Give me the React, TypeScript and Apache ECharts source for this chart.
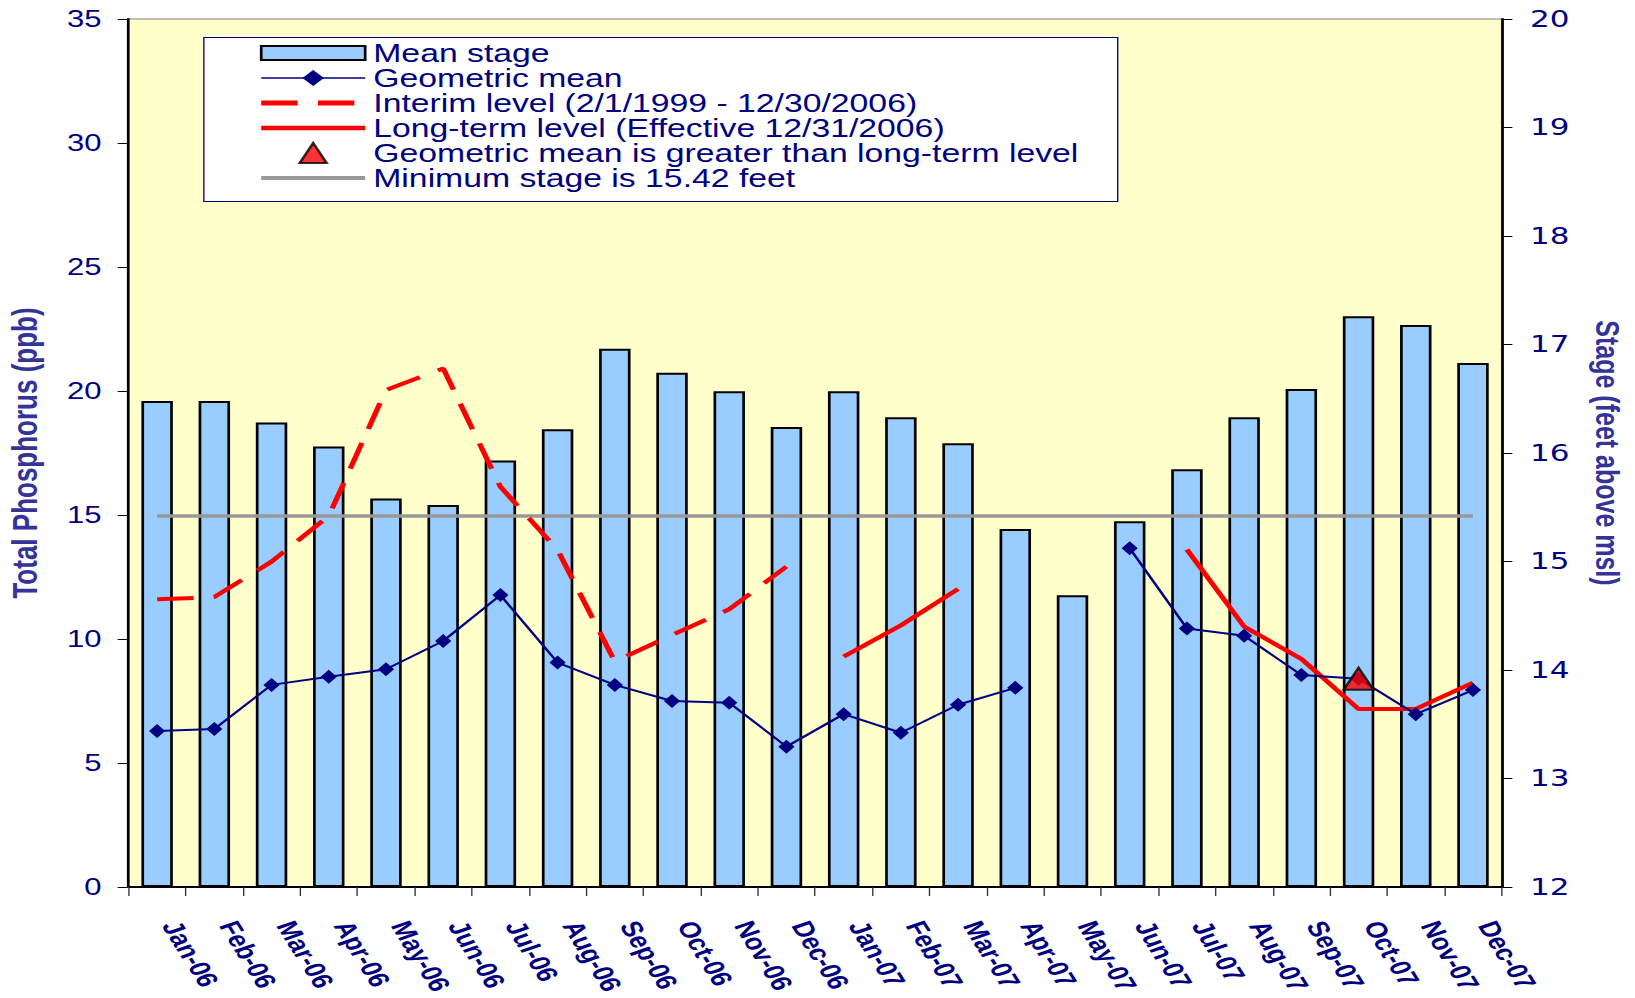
import React, { useEffect, useRef } from "react";
import * as echarts from "echarts";

// ---------- data ----------
const categories = [
  "Jan-06", "Feb-06", "Mar-06", "Apr-06", "May-06", "Jun-06",
  "Jul-06", "Aug-06", "Sep-06", "Oct-06", "Nov-06", "Dec-06",
  "Jan-07", "Feb-07", "Mar-07", "Apr-07", "May-07", "Jun-07",
  "Jul-07", "Aug-07", "Sep-07", "Oct-07", "Nov-07", "Dec-07",
];

// Mean stage (feet above msl) – right axis
const meanStage = [
  16.48, 16.48, 16.28, 16.06, 15.58, 15.52, 15.93, 16.22, 16.96, 16.74, 16.57, 16.24,
  16.57, 16.33, 16.09, 15.30, 14.69, 15.37, 15.85, 16.33, 16.59, 17.26, 17.18, 16.83,
];

// Geometric mean total phosphorus (ppb) – left axis
const geoMean: (number | null)[] = [
  6.29, 6.37, 8.15, 8.48, 8.78, 9.92, 11.77, 9.05, 8.15, 7.5, 7.43, 5.66,
  6.97, 6.22, 7.35, 8.03, null, 13.66, 10.42, 10.13, 8.55, 8.4, 6.97, 7.94,
];

// Interim level (ppb)
const interimLevel: (number | null)[] = [
  11.6, 11.69, 13.12, 14.96, 20.04, 20.91, 16.14, 13.59, 9.09, 10.16, 11.2, 12.92,
  null, null, null, null, null, null, null, null, null, null, null, null,
];

// Long-term level (ppb)
const longTermLevel: (number | null)[] = [
  null, null, null, null, null, null, null, null, null, null, null, null,
  9.29, 10.55, 12.02, null, null, null, 13.61, 10.5, 9.2, 7.18, 7.18, 8.24,
];

const minStage = 15.42;

const leftTicks = { min: 0, max: 35, interval: 5 };
const rightTicks = { min: 12, max: 20, interval: 1 };

const legendNames = [
  "Mean stage",
  "Geometric mean",
  "Interim level (2/1/1999 - 12/30/2006)",
  "Long-term level (Effective 12/31/2006)",
  "Geometric mean is greater than long-term level",
  "Minimum stage is 15.42 feet",
];

// ---------- derived ----------
const minStageLine = categories.map(() => minStage);
const exceedance = geoMean.map((v, i) => {
  const lt = longTermLevel[i];
  return v != null && lt != null && v > lt ? v : null;
});

const FONT = "'Liberation Sans', Arial, Helvetica, sans-serif";
const NAVY = "#000080";
const TITLE = "#333399";
const STRETCH = 1.35;
const W = 1635 / STRETCH;

// legend icon shapes (box 77 x 20)
const BAR_ICON = "path://M0,0 M77,20 M0,3 L77,3 L77,17 L0,17 Z";
const TRI_ICON = "path://M0,0 M77,20 M28.5,20 L38.5,0 L48.5,20 Z";

export default function App() {
  const ref = useRef<HTMLDivElement>(null);

  useEffect(() => {
    if (!ref.current) return;
    const chart = echarts.init(ref.current, null, { renderer: "svg" });
    chart.setOption({
      animation: false,
      backgroundColor: "#ffffff",
      textStyle: { fontFamily: FONT },
      grid: {
        left: 95.2,
        right: W - 1112.4,
        top: 19,
        bottom: 111,
        outerBoundsMode: "none",
        containLabel: false,
        show: true,
        backgroundColor: "#FFFFCC",
        borderColor: "#808080",
        borderWidth: 1,
      },
      legend: {
        orient: "vertical",
        left: 151,
        top: 37.5,
        padding: [3, 29, 11, 40],
        backgroundColor: "#ffffff",
        borderColor: NAVY,
        borderWidth: 1,
        borderRadius: 0,
        itemWidth: 77,
        itemHeight: 20,
        itemGap: 0,
        selectedMode: false,
        textStyle: {
          color: NAVY,
          fontSize: 25,
          lineHeight: 25,
          fontFamily: FONT,
          padding: [0, 0, 0, 1],
        },
        data: [
          {
            name: legendNames[0],
            icon: BAR_ICON,
            itemStyle: { color: "#99CCFF", borderColor: "#000000", borderWidth: 2 },
          },
          {
            name: legendNames[1],
            lineStyle: { color: NAVY, width: 1.5 },
          },
          {
            name: legendNames[2],
            itemStyle: { opacity: 0 },
            lineStyle: { color: "#FF0000", width: 5, type: [27, 15], cap: "butt" },
          },
          {
            name: legendNames[3],
            itemStyle: { opacity: 0 },
            lineStyle: { color: "#FF0000", width: 4.5 },
          },
          {
            name: legendNames[4],
            icon: TRI_ICON,
            itemStyle: { color: "#FF0000", borderColor: "#000000", borderWidth: 2 },
          },
          {
            name: legendNames[5],
            itemStyle: { opacity: 0 },
            lineStyle: { color: "#999999", width: 4 },
          },
        ],
      },
      xAxis: {
        type: "category",
        data: categories,
        boundaryGap: true,
        axisLine: { show: true, lineStyle: { color: "#000000", width: 2 } },
        axisTick: { show: true, length: 9, interval: 0, lineStyle: { color: "#333333", width: 1 } },
        axisLabel: {
          interval: 0,
          rotate: -65,
          margin: 40,
          color: NAVY,
          fontSize: 22,
          fontWeight: "bold",
          fontFamily: FONT,
          align: "left",
          verticalAlign: "bottom",
        },
        splitLine: { show: false },
      },
      yAxis: [
        {
          type: "value",
          position: "left",
          ...leftTicks,
          name: "Total Phosphorus (ppb)",
          nameLocation: "middle",
          nameGap: 64,
          nameTextStyle: { color: TITLE, fontSize: 26, fontWeight: "bold", fontFamily: FONT },
          axisLine: { show: true, lineStyle: { color: "#000000", width: 2 } },
          axisTick: { show: true, length: 8, lineStyle: { color: "#000000", width: 1 } },
          axisLabel: { color: NAVY, fontSize: 23, margin: 20, fontFamily: FONT },
          splitLine: { show: false },
        },
        {
          type: "value",
          position: "right",
          ...rightTicks,
          startValue: rightTicks.min,
          name: "Stage (feet above msl)",
          nameLocation: "middle",
          nameRotate: -90,
          nameGap: 66,
          nameTextStyle: { color: TITLE, fontSize: 25, fontWeight: "bold", fontFamily: FONT },
          axisLine: { show: true, lineStyle: { color: "#000000", width: 2 } },
          axisTick: { show: true, length: 8, lineStyle: { color: "#000000", width: 1 } },
          axisLabel: { color: NAVY, fontSize: 23, margin: 21, fontFamily: "'DejaVu Sans', Verdana, sans-serif" },
          splitLine: { show: false },
        },
      ],
      series: [
        {
          name: legendNames[0],
          type: "bar",
          yAxisIndex: 1,
          data: meanStage,
          barWidth: "55%",
          clip: true,
          itemStyle: { color: "#99CCFF", borderColor: "#000000", borderWidth: 2 },
          z: 2,
        },
        {
          name: legendNames[5],
          type: "line",
          yAxisIndex: 1,
          data: minStageLine,
          symbol: "none",
          lineStyle: { color: "#999999", width: 3.5 },
          itemStyle: { color: "#999999" },
          z: 3,
        },
        {
          name: legendNames[2],
          type: "line",
          yAxisIndex: 0,
          data: interimLevel,
          symbol: "none",
          lineStyle: { color: "#FF0000", width: 4, type: [27, 15], cap: "butt" },
          itemStyle: { color: "#FF0000" },
          z: 4,
        },
        {
          name: legendNames[3],
          type: "line",
          yAxisIndex: 0,
          data: longTermLevel,
          symbol: "none",
          lineStyle: { color: "#FF0000", width: 4 },
          itemStyle: { color: "#FF0000" },
          z: 4,
        },
        {
          name: legendNames[1],
          type: "line",
          yAxisIndex: 0,
          data: geoMean,
          symbol: "diamond",
          symbolSize: [12, 14],
          showSymbol: true,
          lineStyle: { color: NAVY, width: 2 },
          itemStyle: { color: NAVY },
          z: 5,
        },
        {
          name: legendNames[4],
          type: "scatter",
          yAxisIndex: 0,
          data: exceedance,
          symbol: "triangle",
          symbolSize: 22,
          itemStyle: { color: "#FF0000", borderColor: "#000000", borderWidth: 2 },
          z: 6,
        },
      ],
    });
    return () => chart.dispose();
  }, []);

  return (
    <div
      style={{
        position: "absolute",
        left: 0,
        top: 0,
        width: 1635,
        height: 998,
        overflow: "hidden",
        background: "#ffffff",
      }}
    >
      <div
        ref={ref}
        style={{
          width: W,
          height: 998,
          transform: `scaleX(${STRETCH})`,
          transformOrigin: "0 0",
        }}
      />
    </div>
  );
}
